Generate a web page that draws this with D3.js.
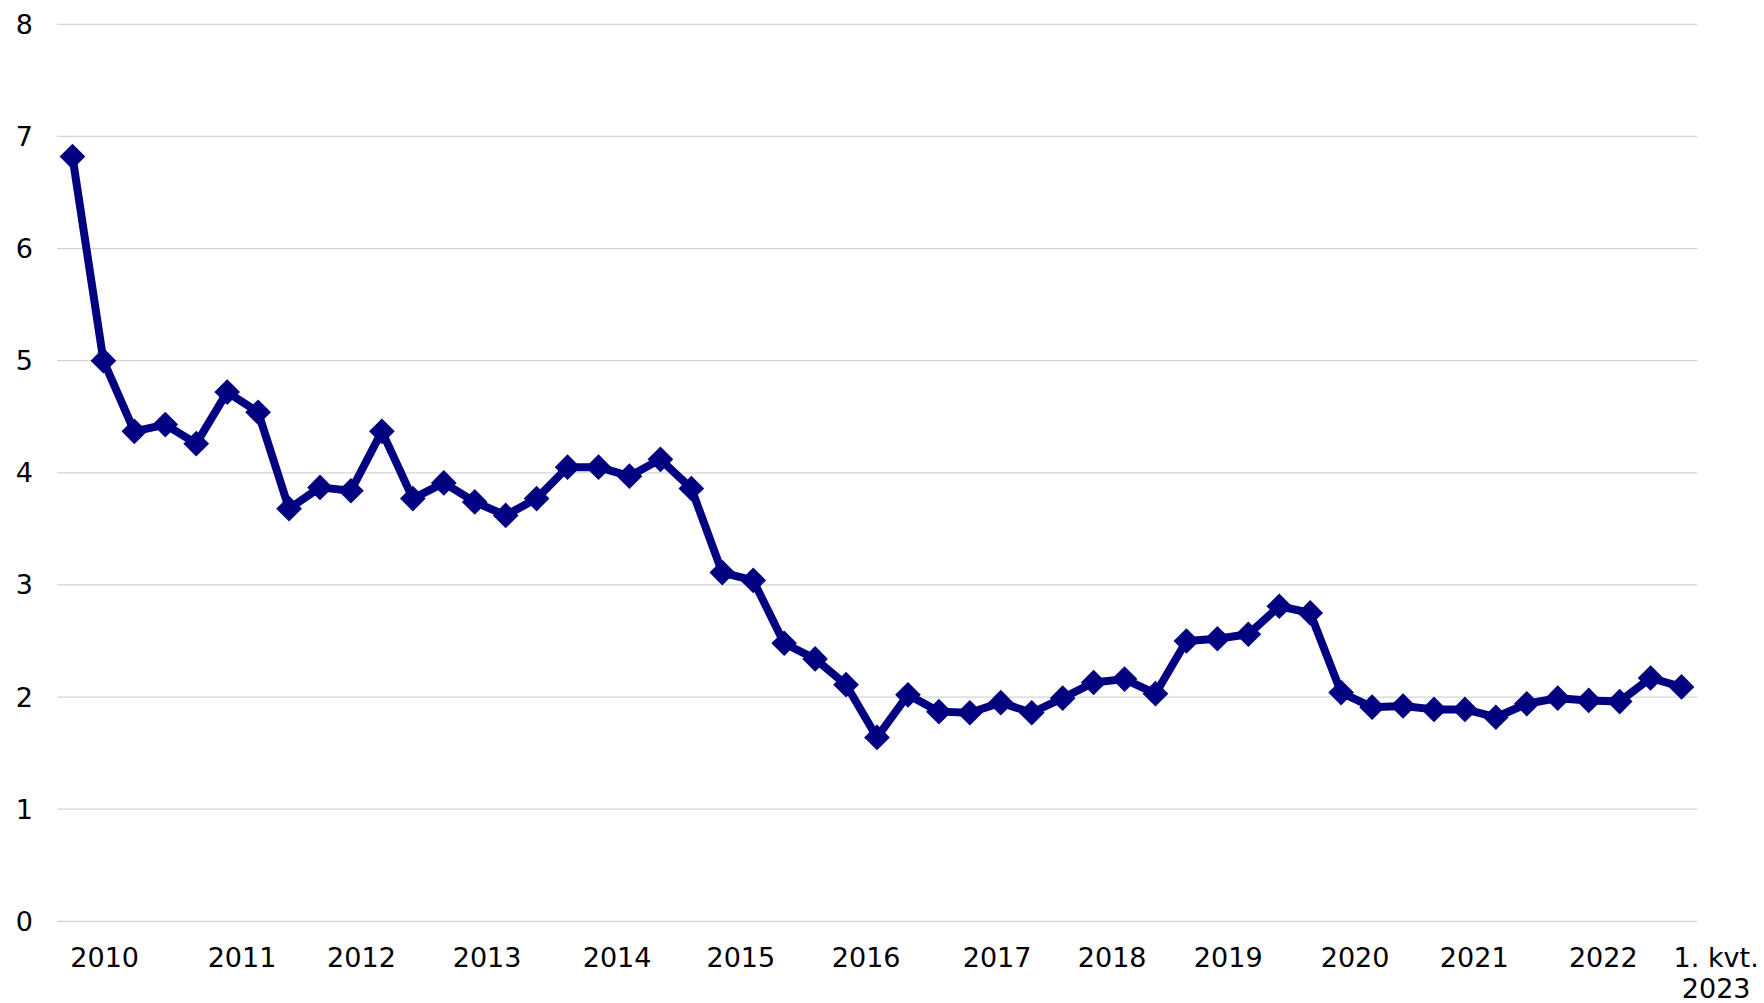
<!DOCTYPE html>
<html>
<head>
<meta charset="utf-8">
<script src="https://cdn.jsdelivr.net/npm/d3@7"></script>
<style>
  body { margin: 0; background: #fff; }
  svg { display: block; }
  text { font-family: "DejaVu Sans", Verdana, sans-serif; fill: #000; }
</style>
</head>
<body>
<svg id="chart" width="1764" height="1003"></svg>
<script>
// kvartaler 1. kvt. 2010 - 1. kvt. 2023
var values = [
  6.82, 5.00, 4.37, 4.43, 4.26, 4.72, 4.54, 3.68, 3.87, 3.84, 4.37, 3.77, 3.91,
  3.74, 3.62, 3.77, 4.05, 4.05, 3.97, 4.12, 3.86, 3.11, 3.04, 2.48, 2.34, 2.11,
  1.64, 2.02, 1.87, 1.86, 1.95, 1.86, 1.99, 2.13, 2.16, 2.03, 2.50, 2.52, 2.56,
  2.81, 2.75, 2.04, 1.91, 1.92, 1.89, 1.89, 1.82, 1.94, 1.99, 1.97, 1.96, 2.17, 2.09
];
var yTicks = [0, 1, 2, 3, 4, 5, 6, 7, 8];
var xLabels = ["2010", "2011", "2012", "2013", "2014", "2015", "2016", "2017",
  "2018", "2019", "2020", "2021", "2022", "1. kvt.|2023"];
// hvor etiketterne står, målt i kvartaler
var xLabelPos = [1.04, 5.48, 9.34, 13.4, 17.6, 21.6, 25.65, 29.88, 33.6, 37.35,
  41.45, 45.3, 49.47, 53.12];

var svg = d3.select("#chart");

var x = d3.scaleLinear().domain([-0.5, values.length - 0.5]).range([57, 1697]);
var y = d3.scaleLinear().domain([0, 8]).range([921.3, 24.3]);

// gitterlinjer
svg.append("g").selectAll("line")
  .data(yTicks)
  .enter()
  .append("line")
  .attr("x1", x.range()[0])
  .attr("x2", x.range()[1])
  .attr("y1", d => y(d))
  .attr("y2", d => y(d))
  .attr("stroke", "#d4d4d4")
  .attr("stroke-width", 1.3);

// y-akse tal
svg.append("g").selectAll("text")
  .data(yTicks)
  .enter()
  .append("text")
  .attr("x", 33)
  .attr("y", d => y(d))
  .attr("text-anchor", "end")
  .attr("dominant-baseline", "central")
  .style("font-size", "27px")
  .text(d => d);

// x-akse etiketter
var lbl = svg.append("g").selectAll("text")
  .data(xLabels)
  .enter()
  .append("text")
  .attr("text-anchor", "middle")
  .style("font-size", "27px")
  .attr("transform", (d, i) => "translate(" + x(xLabelPos[i]) + ",967)");

lbl.selectAll("tspan")
  .data(d => d.split("|"))
  .enter()
  .append("tspan")
  .attr("x", 0)
  .attr("dy", (d, j) => j === 0 ? 0 : 31)
  .text(d => d);

// linjen
var line = d3.line()
  .x((d, i) => x(i))
  .y(d => y(d));

svg.append("path")
  .datum(values)
  .attr("d", line)
  .attr("fill", "none")
  .attr("stroke", "#000080")
  .attr("stroke-width", 8)
  .attr("stroke-linejoin", "round");

// markører (ruder)
var diamond = d3.symbol().type(d3.symbolSquare).size(330);
svg.append("g").selectAll("path")
  .data(values)
  .enter()
  .append("path")
  .attr("d", diamond)
  .attr("transform", (d, i) => "translate(" + x(i) + "," + y(d) + ") rotate(45)")
  .attr("fill", "#000080");
</script>
</body>
</html>
